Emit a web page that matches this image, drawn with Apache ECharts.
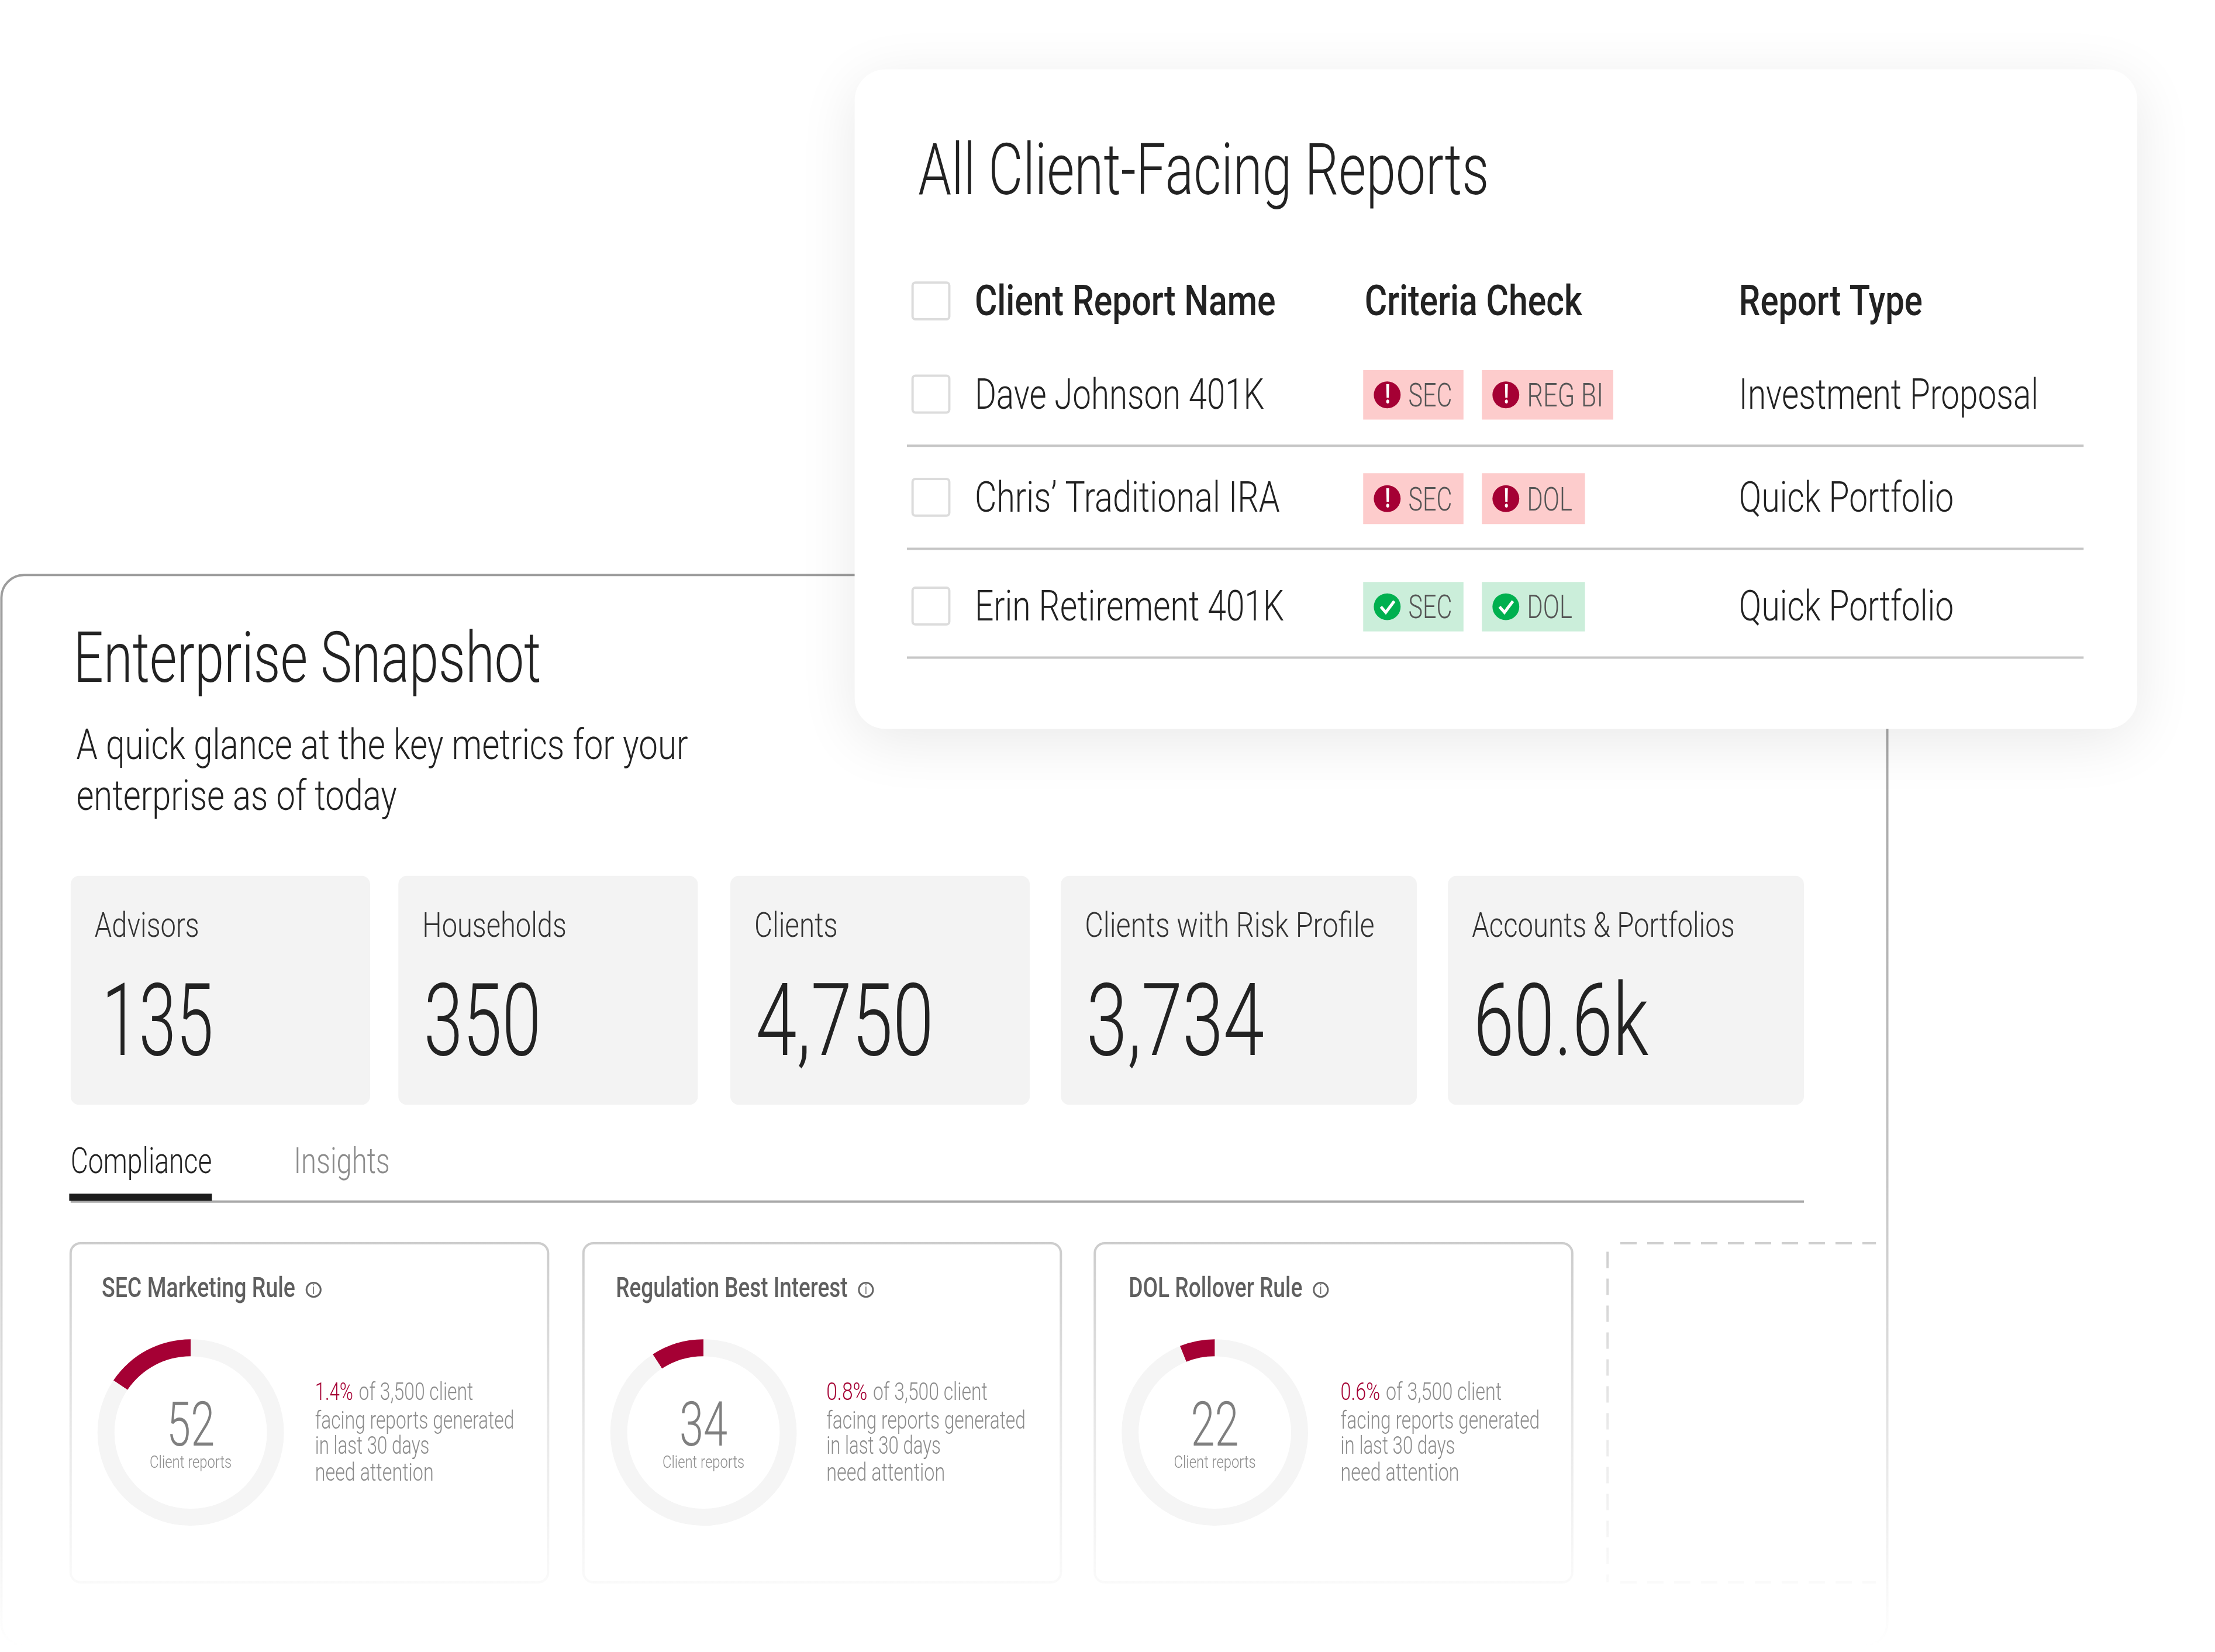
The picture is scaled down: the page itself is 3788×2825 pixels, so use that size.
<!DOCTYPE html>
<html><head><meta charset="utf-8">
<script src="https://cdn.jsdelivr.net/npm/echarts@6/dist/echarts.min.js"></script>
<style>html,body{margin:0;padding:0;background:#fff}#chart{width:3788px;height:2825px}</style>
</head><body><div id="chart"></div>
<script>
// ── Data ──
const REPORT_TITLE = 'All Client-Facing Reports';
const TABLE_HEADERS = ['Client Report Name', 'Criteria Check', 'Report Type'];
const REPORT_NAMES = ['Dave Johnson 401K', 'Chris\u2019 Traditional IRA', 'Erin Retirement 401K'];
const REPORT_TYPES = ['Investment Proposal', 'Quick Portfolio', 'Quick Portfolio'];
const REPORT_BADGES = [['SEC', 'REG BI'], ['SEC', 'DOL'], ['SEC', 'DOL']];
const REPORT_PASSED = [false, false, true];

const PANEL_TITLE = 'Enterprise Snapshot';
const PANEL_SUB = ['A quick glance at the key metrics for your', 'enterprise as of today'];
const TILE_LABELS = ['Advisors', 'Households', 'Clients', 'Clients with Risk Profile', 'Accounts & Portfolios'];
const TILE_VALUES = ['135', '350', '4,750', '3,734', '60.6k'];
const TABS = ['Compliance', 'Insights'];

const RULE_NAMES = ['SEC Marketing Rule', 'Regulation Best Interest', 'DOL Rollover Rule'];
const RULE_COUNTS = [52, 34, 22];
const RULE_SWEEP_DEG = [56, 33, 22]; // ring arc, in degrees
const RULE_PCTS = ['1.4%', '0.8%', '0.6%'];
const RULE_COUNT_LABEL = 'Client reports';
const RULE_TEXT = ['of 3,500 client', 'facing reports generated', 'in last 30 days', 'need attention'];

// ── Helpers ──
const U = 3788 / 1568; // layout below is in 1568-wide units
const el = [];
const probe = document.createElement('canvas').getContext('2d');

// condensed text: Roboto squeezed so it spans x0..x1
function txt(str, x0, x1, base, size, color, weight) {
  const font = `${weight || 300} ${size}px Roboto`;
  probe.font = font;
  const k = (x1 - x0) * U / probe.measureText(str).width;
  el.push({
    type: 'text', x: x0 * U, y: base * U - size * 0.24, scaleX: k, silent: true,
    style: { text: str, font, fill: color, align: 'left', verticalAlign: 'middle' },
  });
}
function txtC(str, cx, w, base, size, color) { txt(str, cx - w / 2, cx + w / 2, base, size, color); }
function box(x0, y0, x1, y1, r, style, z) {
  el.push({
    type: 'rect', silent: true, z: z || 0,
    shape: { x: x0 * U, y: y0 * U, width: (x1 - x0) * U, height: (y1 - y0) * U, r: r * U },
    style,
  });
}
function hline(x0, x1, y, color, w) {
  el.push({ type: 'line', silent: true, shape: { x1: x0 * U, y1: y * U, x2: x1 * U, y2: y * U }, style: { stroke: color, lineWidth: w } });
}
const fade = (a, b, c) => new echarts.graphic.LinearGradient(0, 0, 0, 1, [
  { offset: 0, color: a }, { offset: 0.55, color: b }, { offset: 1, color: c },
]);

// ── Snapshot panel ──
box(1, 407, 1336, 1165, 16, { fill: 'none', stroke: fade('#9c9c9c', '#c4c4c4', '#ffffff'), lineWidth: 4 });
txt(PANEL_TITLE, 52, 383, 482, 120, '#222222');
txt(PANEL_SUB[0], 54, 487, 537, 72, '#222222');
txt(PANEL_SUB[1], 54, 281, 573, 72, '#222222');

const tileX = [[50, 262], [282, 494], [517, 729], [751, 1003], [1025, 1277]];
const tileLabelX = [[67, 141], [299, 401], [534, 593], [768, 973], [1042, 1228]];
const tileValueX = [[72, 151], [300, 383], [535, 661], [769, 895], [1043, 1167]];
TILE_LABELS.forEach((label, i) => {
  box(tileX[i][0], 620, tileX[i][1], 782, 6, { fill: '#f3f3f3' });
  txt(label, tileLabelX[i][0], tileLabelX[i][1], 663, 60, '#333333');
  txt(TILE_VALUES[i], tileValueX[i][0], tileValueX[i][1], 746, 172, '#222222');
});

txt(TABS[0], 50, 150, 830, 62, '#222222');
txt(TABS[1], 208, 276, 830, 62, '#8c8c8c');
hline(50, 1277, 850.5, '#a8a8a8', 4);
box(49, 845, 150, 850, 0, { fill: '#1c1c1c' });

// ── Rule cards ──
const cardX = [[50, 388], [413, 751], [775, 1113]];
const titleX = [[72, 209], [436, 600], [799, 922]];
const infoX = [222, 613, 935];
const ringX = [135, 498, 860];
const descX = [223, 585, 949];
const pctW = [27, 29, 28];
const firstW = [81, 81, 82];
RULE_NAMES.forEach((name, i) => {
  box(cardX[i][0], 880, cardX[i][1], 1120, 7, { fill: 'none', stroke: fade('#cccccc', '#e8e8e8', '#fafafa'), lineWidth: 4 });
  txt(name, titleX[i][0], titleX[i][1], 918, 48, '#5f5f5f', 500);
  el.push({ type: 'circle', silent: true, shape: { cx: infoX[i] * U, cy: 913 * U, r: 5 * U }, style: { fill: 'none', stroke: '#666666', lineWidth: 3 } });
  txtC('i', infoX[i], 2, 916, 24, '#555555');
  txtC(String(RULE_COUNTS[i]), ringX[i], 34, 1023, 106, '#7f7f7f');
  txtC(RULE_COUNT_LABEL, ringX[i], 58, 1039, 30, '#8c8c8c');
  const dx = descX[i];
  txt(RULE_PCTS[i], dx, dx + pctW[i], 991, 42, '#a50034');
  txt(RULE_TEXT[0], dx + pctW[i] + 4, dx + pctW[i] + 4 + firstW[i], 991, 42, '#8c8c8c');
  txt(RULE_TEXT[1], dx, dx + 141, 1011, 42, '#8c8c8c');
  txt(RULE_TEXT[2], dx, dx + 81, 1029, 42, '#8c8c8c');
  txt(RULE_TEXT[3], dx, dx + 84, 1048, 42, '#8c8c8c');
});

// dashed placeholder card
hline(1147, 1328, 880, '#cfcfcf', 4);
el[el.length - 1].style.lineDash = [28, 18];
el.push({
  type: 'line', silent: true,
  shape: { x1: 1138 * U, y1: 886 * U, x2: 1138 * U, y2: 1120 * U },
  style: { stroke: fade('#cfcfcf', '#eaeaea', '#fafafa'), lineWidth: 4, lineDash: [28, 18] },
});
hline(1147, 1328, 1120, '#fafafa', 4);
el[el.length - 1].style.lineDash = [28, 18];

// ── Reports card ──
box(605, 49, 1513, 516, 22, { fill: '#ffffff', shadowBlur: 100, shadowOffsetY: 20, shadowColor: 'rgba(0,0,0,0.09)' }, 10);
const cardStart = el.length;
txt(REPORT_TITLE, 650, 1054, 137, 123, '#222222');

const headX = [[690, 903], [966, 1120], [1231, 1361]];
TABLE_HEADERS.forEach((h, i) => txt(h, headX[i][0], headX[i][1], 223, 72, '#222222', 500));

function checkbox(y) {
  box(646, y, 672, y + 26, 2, { fill: '#ffffff', stroke: '#dcdcdc', lineWidth: 4 });
}
checkbox(200);
const rowBase = [289, 362, 439];
const rowBoxY = [266, 339, 416];
const badgeY = [[262, 297], [335, 371], [412, 447]];
const nameRight = [895, 906, 909];
const typeRight = [1443, 1383, 1383];
const badgeText = { SEC: [997, 1028], 'REG BI': [1081, 1135], DOL: [1081, 1113] };
const badgeBox = { SEC: [965, 1036], 'REG BI': [1049, 1142], DOL: [1049, 1122] };
const ruleY = [315.5, 388.5, 465.5];

REPORT_NAMES.forEach((name, r) => {
  checkbox(rowBoxY[r]);
  txt(name, 690, nameRight[r], rowBase[r], 72, '#222222');
  txt(REPORT_TYPES[r], 1231, typeRight[r], rowBase[r], 72, '#222222');
  hline(642, 1475, ruleY[r], '#c6c6c6', 4);
  const cy = (badgeY[r][0] + badgeY[r][1]) / 2;
  REPORT_BADGES[r].forEach(b => {
    const ok = REPORT_PASSED[r];
    box(badgeBox[b][0], badgeY[r][0], badgeBox[b][1], badgeY[r][1], 0, { fill: ok ? '#cbeeda' : '#fdcccc' });
    const ix = badgeBox[b][0] + 17;
    el.push({ type: 'circle', silent: true, shape: { cx: ix * U, cy: cy * U, r: 9.5 * U }, style: { fill: ok ? '#00b04f' : '#a50034' } });
    if (ok) {
      el.push({
        type: 'polyline', silent: true,
        shape: { points: [[(ix - 4.5) * U, cy * U], [(ix - 1) * U, (cy + 4) * U], [(ix + 5) * U, (cy - 4) * U]] },
        style: { fill: 'none', stroke: '#ffffff', lineWidth: 5 },
      });
    } else {
      txtC('!', ix, 3, cy + 6, 46, '#ffffff');
      el[el.length - 1].style.font = '700 46px Roboto';
    }
    txt(b, badgeText[b][0], badgeText[b][1], cy + 8, 56, '#555555');
  });
});
for (let i = cardStart; i < el.length; i++) el[i].z = 11;

// ── Chart ──
const ringSeries = RULE_SWEEP_DEG.map((deg, i) => ({
  type: 'pie', silent: true, animation: false, clockwise: false, startAngle: 90,
  center: [ringX[i] * U, 1014 * U], radius: [54 * U, 66 * U],
  label: { show: false }, labelLine: { show: false }, emphasis: { disabled: true },
  data: [
    { value: deg, itemStyle: { color: '#a50034' } },
    { value: 360 - deg, itemStyle: { color: '#f5f5f5' } },
  ],
}));

const chart = echarts.init(document.getElementById('chart'));
chart.setOption({ animation: false, backgroundColor: '#ffffff', series: ringSeries, graphic: { elements: el } });
</script></body></html>
